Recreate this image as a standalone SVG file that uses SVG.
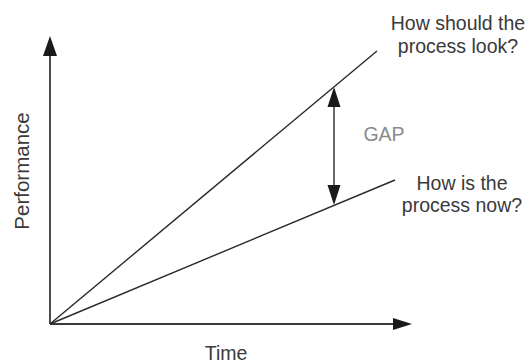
<svg xmlns="http://www.w3.org/2000/svg" width="529" height="363" viewBox="0 0 529 363">
<style>
.ln{stroke:#2a2a2a;stroke-width:1.4;fill:none}
.ax{stroke:#3a3a3a;stroke-width:1.8;fill:none}
.hd{fill:#1a1a1a}
.t{font-family:"Liberation Sans",Arial,sans-serif;font-size:19.5px;fill:#3a3a3a;text-anchor:middle}
.g{fill:#8a8a8a}
</style>
<rect width="529" height="363" fill="#fff"/>
<g id="connectors">
<line class="ax" x1="50" y1="324" x2="50" y2="52"/>
<polygon class="hd" points="50,36 57,56 43,56"/>
<line class="ax" x1="50" y1="324" x2="396" y2="324"/>
<polygon class="hd" points="412,324 393,318 393,330"/>
<line class="ln" x1="50" y1="324" x2="377" y2="51"/>
<line class="ln" x1="50" y1="324" x2="395" y2="180"/>
<line class="ln" x1="334" y1="104" x2="334" y2="188"/>
<polygon class="hd" points="334,87 340.5,107 327.5,107"/>
<polygon class="hd" points="334,205 340.5,185 327.5,185"/>
</g>
<g id="label-should">
<text class="t" x="458" y="30">How should the</text>
<text class="t" x="458" y="53">process look?</text>
</g>
<g id="label-now">
<text class="t" x="462" y="190">How is the</text>
<text class="t" x="462" y="212">process now?</text>
</g>
<g id="label-gap"><text class="t g" x="384" y="141">GAP</text></g>
<g id="label-time"><text class="t" x="226" y="360">Time</text></g>
<g id="label-performance"><text class="t" style="font-size:20.5px" transform="translate(29,171) rotate(-90)">Performance</text></g>
</svg>
